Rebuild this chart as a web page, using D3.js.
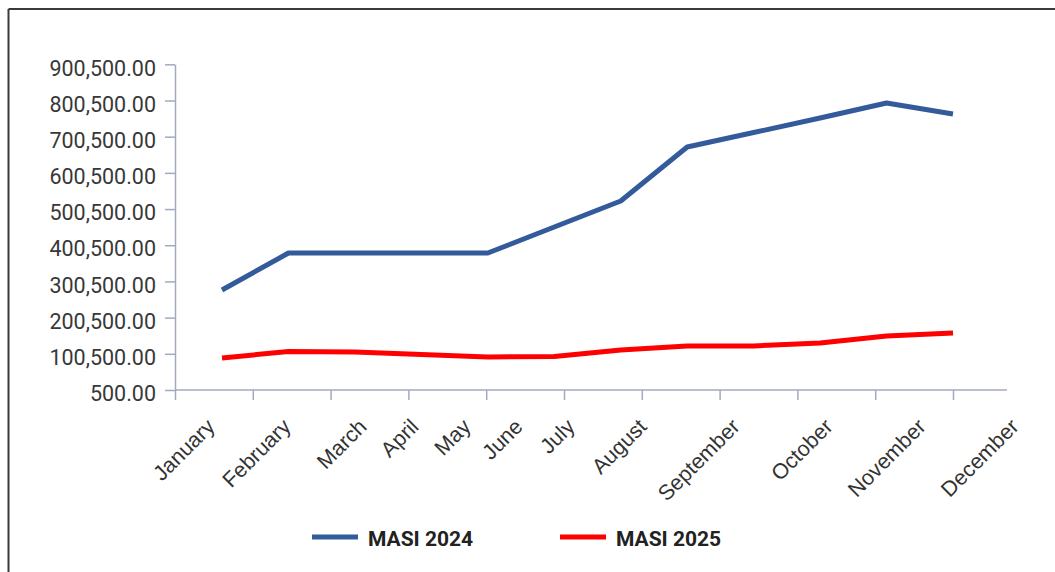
<!DOCTYPE html>
<html>
<head>
<meta charset="utf-8">
<script src="https://cdn.jsdelivr.net/npm/d3@7/dist/d3.min.js"></script>
<style>
  html, body { margin: 0; padding: 0; background: #ffffff; }
  svg { display: block; }
</style>
</head>
<body>
<svg id="chart" width="1055" height="572"></svg>
<script>
// ---- data ----
const months = ["January","February","March","April","May","June","July","August","September","October","November","December"];
const masi2024 = [276800, 379000, 379000, 379000, 379000, 450900, 522700, 672000, 712000, 752000, 793500, 763000];
const masi2025 = [89000, 106900, 105500, 98600, 91700, 93100, 111000, 122100, 122100, 130400, 149700, 158000];
const yTicks = [500, 100500, 200500, 300500, 400500, 500500, 600500, 700500, 800500, 900500];
const seriesNames = ["MASI 2024", "MASI 2025"];

// ---- layout ----
const W = 1055, H = 572;
const plotLeft = 175, plotRight = 1007, plotTop = 64.3, plotBottom = 390;
const colors = ["#335a9a", "#ff0000"];

const svg = d3.select("#chart");

// frame (top and left edges)
svg.append("line").attr("x1", 8.5).attr("x2", W).attr("y1", 9).attr("y2", 9)
  .attr("stroke", "#3a3a3a").attr("stroke-width", 2);
svg.append("line").attr("x1", 8.5).attr("x2", 8.5).attr("y1", 9).attr("y2", H)
  .attr("stroke", "#3a3a3a").attr("stroke-width", 2);

// scales
const y = d3.scaleLinear().domain([500, 900500]).range([plotBottom, plotTop]);
const x = d3.scaleLinear().domain([0, months.length - 1]).range([222, 953]);
const tickX = d3.scaleLinear().domain([0, 10]).range([plotLeft, 953]);
const labelX = d3.scaleLinear().domain([0, 2, 6, 7, 11]).range([216, 368, 576, 648, 1020]);

const axisColor = "#a3aac0";

// y axis
const yAxis = svg.append("g")
  .attr("transform", `translate(${plotLeft},0)`)
  .call(d3.axisLeft(y).tickValues(yTicks).tickFormat(d3.format(",.2f")).tickSize(10).tickPadding(9).tickSizeOuter(0));
yAxis.select(".domain").attr("stroke", axisColor).attr("stroke-width", 1.5);
yAxis.selectAll(".tick line").attr("stroke", axisColor).attr("stroke-width", 1.5);
yAxis.selectAll(".tick text")
  .attr("font-family", "Roboto, sans-serif")
  .attr("font-size", 21.5)
  .attr("fill", "#383838")
  .attr("dy", "0.5em");

// x axis (ticks)
const xAxis = svg.append("g")
  .attr("transform", `translate(0,${plotBottom})`)
  .call(d3.axisBottom(tickX).tickValues(d3.range(0, 11)).tickFormat("").tickSize(10).tickSizeOuter(0));
xAxis.select(".domain").remove();
xAxis.selectAll(".tick line").attr("stroke", axisColor).attr("stroke-width", 1.5);
xAxis.append("line")
  .attr("x1", plotLeft).attr("x2", plotRight).attr("y1", 0).attr("y2", 0)
  .attr("stroke", axisColor).attr("stroke-width", 1.5);

// x labels
svg.append("g").selectAll("text")
  .data(months)
  .join("text")
  .attr("transform", (d, i) => `translate(${labelX(i)},428) rotate(-45)`)
  .attr("text-anchor", "end")
  .attr("font-family", "'Liberation Sans', Arial, sans-serif")
  .attr("font-size", 21.5)
  .attr("fill", "#333333")
  .text(d => d);

// lines
const line = d3.line().x((d, i) => x(i)).y(d => y(d));
[masi2024, masi2025].forEach((s, k) => {
  svg.append("path")
    .datum(s)
    .attr("d", line)
    .attr("fill", "none")
    .attr("stroke", colors[k])
    .attr("stroke-width", 5)
    .attr("stroke-linejoin", "round");
});

// legend
const legendX = d3.scaleLinear().domain([0, 1]).range([312, 560]);
const lg = svg.append("g").selectAll("g").data(seriesNames).join("g")
  .attr("transform", (d, i) => `translate(${legendX(i)},537)`);
lg.append("line").attr("x1", 0).attr("x2", 46).attr("y1", 0).attr("y2", 0)
  .attr("stroke", (d, i) => colors[i]).attr("stroke-width", 5);
lg.append("text").attr("x", 56).attr("y", 8.5)
  .attr("font-family", "Roboto, sans-serif").attr("font-weight", "bold")
  .attr("font-size", 21).attr("fill", "#222222")
  .text(d => d);
</script>
</body>
</html>
